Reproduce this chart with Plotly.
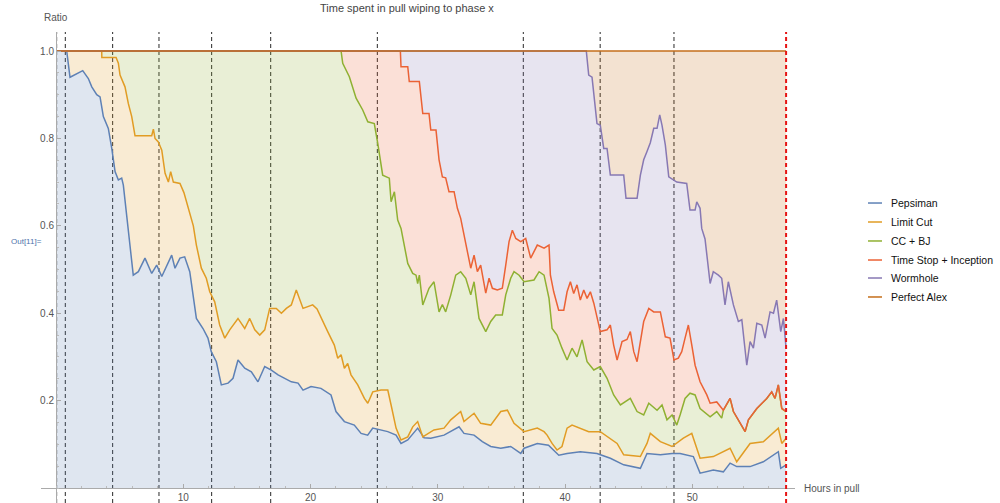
import plotly.graph_objects as go

# ---------------- data (hours in pull, ratio) ----------------
pepsi_x = [0, 0.84, 1.10, 2.10, 2.54, 2.81, 3.20, 3.46, 3.72, 4.11, 4.38, 4.64, 4.90, 5.16, 5.29,
           6.07, 6.47, 6.99, 7.52, 7.91, 8.31, 8.70, 9.09, 9.35, 9.74, 10.11, 10.51, 11.03, 11.55,
           11.94, 12.20, 12.60, 12.99, 13.52, 13.91, 14.30, 14.83, 15.35, 15.87, 16.40, 16.92,
           17.45, 17.97, 18.49, 19.02, 19.41, 20.04, 20.82, 21.61, 22.00, 22.66, 23.44, 23.97,
           24.49, 24.89, 25.41, 26.07, 26.72, 27.11, 27.64, 28.42, 28.92, 29.45, 30.49, 31.02,
           31.67, 32.06, 32.85, 33.50, 34.16, 34.95, 35.73, 36.52, 36.78, 37.82, 38.70, 39.51,
           40.16, 41.20, 42.51, 43.56, 44.61, 45.92, 46.44, 47.49, 48.41, 49.04, 50.08, 50.61,
           51.65, 52.44, 52.97, 53.49, 54.54, 55.58, 56.76, 56.95, 57.37]
pepsi_y = [1.0, 1.0, 0.940, 0.955, 0.937, 0.918, 0.900, 0.895, 0.850, 0.823, 0.777, 0.724, 0.705,
           0.709, 0.693, 0.487, 0.495, 0.526, 0.491, 0.510, 0.484, 0.510, 0.533, 0.503, 0.526,
           0.529, 0.495, 0.388, 0.365, 0.343, 0.312, 0.289, 0.236, 0.240, 0.251, 0.293, 0.274,
           0.266, 0.243, 0.278, 0.270, 0.259, 0.251, 0.243, 0.240, 0.224, 0.232, 0.228, 0.213,
           0.175, 0.152, 0.144, 0.125, 0.121, 0.137, 0.133, 0.129, 0.121, 0.102, 0.110, 0.137,
           0.115, 0.114, 0.121, 0.129, 0.140, 0.125, 0.121, 0.106, 0.095, 0.091, 0.095, 0.079,
           0.091, 0.102, 0.098, 0.075, 0.079, 0.083, 0.079, 0.068, 0.053, 0.045, 0.079, 0.076,
           0.079, 0.079, 0.072, 0.034, 0.041, 0.037, 0.057, 0.049, 0.049, 0.060, 0.083, 0.045,
           0.053]

limit_x = [0, 3.59, 3.60, 4.72, 4.90, 5.03, 5.42, 5.68, 5.95, 6.21, 7.52, 7.65, 7.78, 8.04, 8.31,
           8.57, 8.83, 9.01, 9.22, 9.74, 10.05, 10.40, 10.79, 11.03, 11.42, 11.81, 12.08, 12.47,
           12.86, 13.26, 13.65, 14.30, 14.83, 15.22, 15.62, 16.01, 16.40, 16.79, 17.31, 17.71,
           18.10, 18.49, 18.88, 19.41, 20.17, 20.51, 20.96, 21.35, 21.87, 22.14, 22.40, 22.66,
           22.92, 23.18, 23.71, 24.23, 24.50, 24.89, 25.54, 26.07, 26.33, 26.72, 27.11, 27.64,
           28.03, 28.42, 28.82, 29.70, 30.49, 31.02, 31.80, 32.06, 32.85, 33.37, 34.16, 34.95,
           35.47, 35.99, 36.78, 37.82, 38.35, 38.59, 38.98, 39.37, 39.76, 40.16, 40.55, 41.20,
           41.86, 42.77, 43.56, 44.09, 44.61, 45.92, 46.44, 46.70, 47.49, 48.41, 49.30, 49.96,
           50.61, 51.65, 52.97, 53.49, 54.54, 55.58, 56.76, 57.03, 57.37]
limit_y = [1.0, 1.0, 0.985, 0.985, 0.972, 0.945, 0.918, 0.880, 0.850, 0.806, 0.806, 0.821, 0.800,
           0.792, 0.773, 0.720, 0.700, 0.724, 0.700, 0.697, 0.676, 0.640, 0.600, 0.556, 0.503,
           0.480, 0.449, 0.426, 0.373, 0.343, 0.362, 0.388, 0.365, 0.388, 0.362, 0.350, 0.362,
           0.411, 0.411, 0.400, 0.411, 0.419, 0.453, 0.411, 0.419, 0.410, 0.381, 0.358, 0.327,
           0.297, 0.305, 0.274, 0.285, 0.259, 0.236, 0.205, 0.194, 0.220, 0.224, 0.224, 0.190,
           0.137, 0.110, 0.117, 0.140, 0.152, 0.117, 0.133, 0.137, 0.156, 0.175, 0.152, 0.171,
           0.148, 0.144, 0.175, 0.178, 0.148, 0.129, 0.137, 0.129, 0.121, 0.102, 0.087, 0.095,
           0.137, 0.144, 0.137, 0.129, 0.129, 0.114, 0.102, 0.076, 0.072, 0.102, 0.125, 0.106,
           0.095, 0.114, 0.125, 0.068, 0.072, 0.091, 0.060, 0.102, 0.106, 0.137, 0.102, 0.114]

ccbj_x = [0, 22.40, 22.53, 23.05, 23.58, 24.10, 24.50, 25.01, 25.28, 25.67, 26.19, 26.33, 26.59,
          26.85, 27.11, 27.64, 28.03, 28.29, 28.42, 28.55, 28.82, 29.31, 29.70, 30.10, 30.36,
          30.62, 31.02, 31.41, 31.80, 32.20, 32.59, 32.85, 33.24, 33.77, 34.16, 34.55, 35.07,
          35.34, 35.73, 35.99, 36.39, 36.78, 37.56, 37.96, 38.35, 38.74, 38.98, 39.37, 39.76,
          40.16, 40.55, 40.94, 41.34, 41.73, 42.26, 42.77, 43.30, 43.82, 44.35, 45.13, 45.66,
          46.18, 46.58, 47.23, 47.62, 48.01, 48.41, 48.78, 49.04, 49.43, 49.82, 50.22, 50.61,
          51.40, 51.92, 52.31, 52.44, 52.97, 53.23, 53.75, 54.15, 54.41, 55.07, 55.85, 56.24,
          56.50, 56.76, 57.03, 57.37]
ccbj_y = [1.0, 1.0, 0.972, 0.941, 0.892, 0.865, 0.838, 0.834, 0.789, 0.716, 0.709, 0.655, 0.678,
          0.613, 0.594, 0.514, 0.491, 0.487, 0.468, 0.487, 0.419, 0.457, 0.472, 0.403, 0.420,
          0.403, 0.442, 0.487, 0.495, 0.480, 0.442, 0.472, 0.388, 0.358, 0.381, 0.396, 0.396,
          0.442, 0.480, 0.495, 0.487, 0.472, 0.476, 0.495, 0.487, 0.434, 0.365, 0.350, 0.320,
          0.293, 0.320, 0.300, 0.339, 0.289, 0.270, 0.278, 0.251, 0.213, 0.190, 0.205, 0.175,
          0.167, 0.194, 0.178, 0.190, 0.156, 0.167, 0.144, 0.167, 0.205, 0.217, 0.213, 0.182,
          0.163, 0.175, 0.160, 0.178, 0.205, 0.175, 0.148, 0.129, 0.156, 0.182, 0.205, 0.220,
          0.205, 0.236, 0.182, 0.175]

stop_x = [0, 27.06, 27.11, 27.64, 27.76, 28.55, 28.82, 29.31, 29.45, 29.86, 30.10, 30.36, 30.62,
          30.88, 31.28, 31.54, 31.80, 32.06, 32.32, 32.59, 32.85, 33.11, 33.37, 33.77, 34.03,
          34.29, 34.68, 35.07, 35.34, 35.60, 35.86, 36.13, 36.52, 36.91, 37.30, 37.82, 38.35,
          38.74, 38.85, 39.11, 39.50, 39.90, 40.16, 40.42, 40.68, 40.94, 41.20, 41.47, 41.73,
          41.99, 42.26, 42.51, 42.77, 43.30, 43.56, 43.82, 44.09, 44.48, 44.87, 45.13, 45.40,
          45.66, 46.18, 46.58, 46.97, 47.49, 47.88, 48.25, 48.56, 48.90, 49.17, 49.43, 49.69,
          49.96, 50.22, 50.61, 51.14, 51.40, 51.92, 52.44, 52.97, 53.23, 53.75, 54.15, 54.41,
          55.07, 55.85, 56.24, 56.50, 56.76, 57.03, 57.37]
stop_y = [1.0, 1.0, 0.964, 0.964, 0.930, 0.930, 0.857, 0.857, 0.819, 0.819, 0.751, 0.712, 0.710,
          0.678, 0.678, 0.640, 0.617, 0.579, 0.541, 0.503, 0.533, 0.495, 0.510, 0.446, 0.480,
          0.457, 0.453, 0.457, 0.510, 0.564, 0.590, 0.571, 0.564, 0.571, 0.526, 0.556, 0.549,
          0.556, 0.487, 0.449, 0.407, 0.407, 0.449, 0.472, 0.445, 0.465, 0.430, 0.453, 0.434,
          0.449, 0.423, 0.388, 0.358, 0.362, 0.373, 0.327, 0.293, 0.335, 0.340, 0.358, 0.312,
          0.289, 0.381, 0.411, 0.403, 0.403, 0.346, 0.343, 0.293, 0.297, 0.312, 0.343, 0.373,
          0.327, 0.281, 0.243, 0.213, 0.194, 0.197, 0.178, 0.205, 0.175, 0.148, 0.129, 0.156,
          0.182, 0.205, 0.220, 0.205, 0.236, 0.182, 0.175]

worm_x = [0, 41.67, 41.86, 42.12, 42.51, 42.77, 43.04, 43.30, 43.56, 44.61, 44.79, 45.66, 45.92,
          46.18, 46.44, 46.70, 46.97, 47.23, 47.44, 47.62, 47.88, 48.15, 48.78, 49.56, 49.82,
          50.22, 50.35, 50.61, 50.74, 51.00, 51.40, 51.65, 52.05, 52.31, 52.57, 52.83, 53.23,
          53.62, 53.89, 54.28, 54.54, 54.80, 55.07, 55.46, 55.72, 56.11, 56.38, 56.63, 56.95,
          57.16, 57.37]
worm_y = [1.0, 1.0, 0.945, 0.940, 0.834, 0.830, 0.777, 0.777, 0.716, 0.716, 0.663, 0.663, 0.716,
          0.751, 0.770, 0.790, 0.823, 0.823, 0.854, 0.830, 0.785, 0.712, 0.700, 0.697, 0.636,
          0.636, 0.655, 0.640, 0.594, 0.570, 0.468, 0.495, 0.487, 0.480, 0.419, 0.472, 0.419,
          0.381, 0.385, 0.281, 0.335, 0.320, 0.377, 0.373, 0.343, 0.403, 0.400, 0.430, 0.358,
          0.388, 0.320]

alex_x = [0, 57.37]
alex_y = [1.0, 1.0]

series_names = ["Pepsiman", "Limit Cut", "CC + BJ", "Time Stop + Inception", "Wormhole", "Perfect Alex"]
series_x = [pepsi_x, limit_x, ccbj_x, stop_x, worm_x, alex_x]
series_y = [pepsi_y, limit_y, ccbj_y, stop_y, worm_y, alex_y]

phase_lines = [0.05, 0.73, 4.45, 8.09, 12.23, 16.87, 25.25, 36.72, 42.76, 48.56]
end_line = 57.37

x_ticks = [10, 20, 30, 40, 50]
y_ticks = [0.2, 0.4, 0.6, 0.8, 1.0]

# ---------------- style ----------------
line_colors = ["rgb(94,129,181)", "rgb(225,156,36)", "rgb(143,176,50)",
               "rgb(235,98,53)", "rgb(135,120,179)", "rgb(197,110,26)"]
fill_colors = ["rgba(94,129,181,0.2)", "rgba(225,156,36,0.2)", "rgba(143,176,50,0.2)",
               "rgba(235,98,53,0.2)", "rgba(135,120,179,0.2)", "rgba(197,110,26,0.2)"]
FONT = "Liberation Sans, Arial, sans-serif"

fig = go.Figure()
for i, (name, xs, ys) in enumerate(zip(series_names, series_x, series_y)):
    fig.add_trace(go.Scatter(
        x=xs, y=ys, mode="lines", name=name,
        line=dict(color=line_colors[i], width=1.5),
        fill="tozeroy" if i == 0 else "tonexty",
        fillcolor=fill_colors[i],
        showlegend=False, hoverinfo="skip",
    ))

shapes = []
for xv in phase_lines:
    shapes.append(dict(type="line", xref="x", yref="paper", x0=xv, x1=xv, y0=0, y1=1,
                       line=dict(color="rgb(40,40,40)", width=1, dash="4px,3px"), layer="below"))
shapes.append(dict(type="line", xref="x", yref="paper", x0=end_line, x1=end_line, y0=0, y1=1,
                   line=dict(color="rgb(230,20,20)", width=2, dash="4px,3px"), layer="above"))

# manual legend (short line samples like the original)
leg_y = [0.6369, 0.5966, 0.5563, 0.5159, 0.4777, 0.4374]
annotations = []
for i, name in enumerate(series_names):
    shapes.append(dict(type="line", xref="paper", yref="paper", x0=1.0968, x1=1.1154,
                       y0=leg_y[i], y1=leg_y[i], line=dict(color=line_colors[i], width=1.5)))
    annotations.append(dict(xref="paper", yref="paper", x=1.1247, y=leg_y[i], text=name,
                            showarrow=False, xanchor="left", yanchor="middle",
                            font=dict(family=FONT, size=10.5, color="#111")))

annotations += [
    dict(xref="paper", yref="paper", x=0.4854, y=1.051, text="Time spent in pull wiping to phase x",
         showarrow=False, xanchor="center", yanchor="middle",
         font=dict(family=FONT, size=11, color="#444")),
    dict(xref="paper", yref="paper", x=0.0199, y=1.0318, text="Ratio",
         showarrow=False, xanchor="center", yanchor="middle",
         font=dict(family=FONT, size=10, color="#555")),
    dict(xref="paper", yref="paper", x=1.0093, y=0.0318, text="Hours in pull",
         showarrow=False, xanchor="left", yanchor="middle",
         font=dict(family=FONT, size=10, color="#555")),
    dict(xref="paper", yref="paper", x=-0.0425, y=0.556, text="Out[11]=",
         showarrow=False, xanchor="left", yanchor="middle",
         font=dict(family=FONT, size=8, color="#4f73ab")),
]

fig.update_layout(
    width=1000, height=503,
    margin=dict(l=41, r=205, t=32, b=0, autoexpand=False),
    paper_bgcolor="white", plot_bgcolor="white",
    showlegend=False,
    shapes=shapes, annotations=annotations,
    font=dict(family=FONT, size=10, color="#555"),
    xaxis=dict(range=[-1.18, 58.07], anchor="free", position=0.0318,
               showgrid=False, zeroline=False, showline=True, linecolor="#aaa", linewidth=1,
               tickvals=x_ticks, ticks="inside", ticklen=4, tickcolor="#aaa",
               tickfont=dict(family=FONT, size=10, color="#555"),
               minor=dict(dtick=2, tick0=0, ticks="inside", ticklen=2, tickcolor="#bbb"),
               automargin=False, fixedrange=True),
    yaxis=dict(range=[-0.0343, 1.0435], anchor="free", position=0.0199,
               showgrid=False, zeroline=False, showline=True, linecolor="#aaa", linewidth=1,
               tickvals=y_ticks, ticktext=["0.2", "0.4", "0.6", "0.8", "1.0"],
               ticks="inside", ticklen=4, tickcolor="#aaa",
               tickfont=dict(family=FONT, size=10, color="#555"),
               minor=dict(dtick=0.05, tick0=0, ticks="inside", ticklen=2, tickcolor="#bbb"),
               automargin=False, fixedrange=True),
)

fig.write_html("out.html")
